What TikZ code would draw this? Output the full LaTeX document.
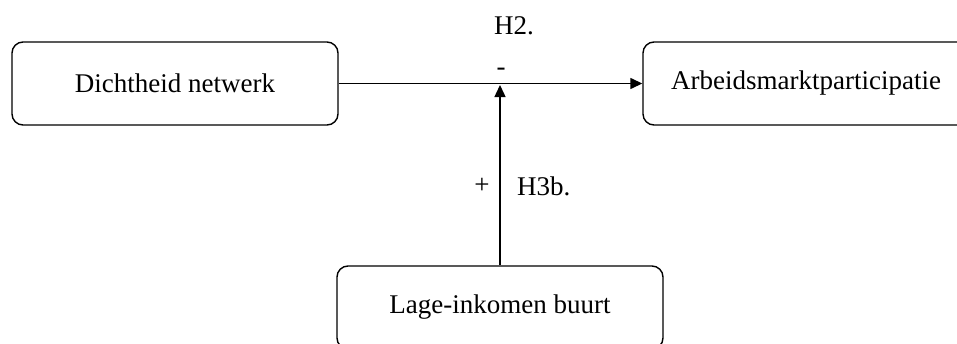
\documentclass[tikz,border=0pt]{standalone}
\usepackage{fontspec}
\setmainfont{Liberation Serif}
\usetikzlibrary{arrows.meta}
\begin{document}
\begin{tikzpicture}[x=1pt,y=-1pt,
  box/.style={draw, line width=1.4pt, rounded corners=11pt, minimum width=326pt, minimum height=83pt, inner sep=0pt, font=\fontsize{27}{32}\selectfont, anchor=center},
  lbl/.style={font=\fontsize{27}{32}\selectfont, inner sep=0pt},
  conn/.style={line width=1.4pt, -{Triangle[length=12pt,width=11pt]}}]
\clip (0,0) rectangle (957,343);
\fill[white] (0,0) rectangle (957,343);
\node[box] (dn) at (175,83.5) {Dichtheid netwerk};
\node[box] (ap) at (806,83.5) {Arbeidsmarktparticipatie};
\node[box] (lb) at (500,307.5) {Lage-inkomen buurt};
\draw[conn] (dn.east) -- (ap.west);
\coordinate (mid) at (lb.north |- dn.east);
\draw[conn, shorten >=1.5pt] (lb.north) -- (mid);
\node[lbl] (h2) at (514,26) {H2.};
\node[lbl] (minus) at (501,72) {-};
\node[lbl] (plus) at (482,186) {+};
\node[lbl, anchor=west] (h3b) at (517,186) {H3b.};
\end{tikzpicture}
\end{document}
